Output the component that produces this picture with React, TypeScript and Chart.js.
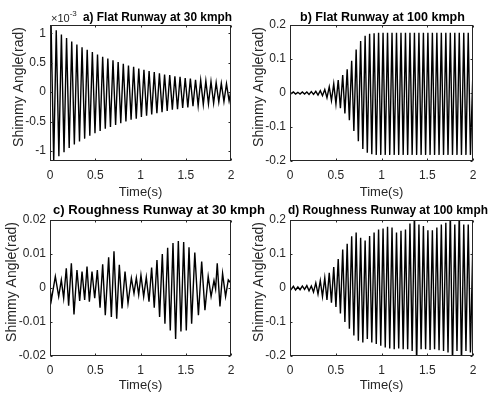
import React, { useEffect, useRef } from "react";
import { Chart, registerables } from "chart.js";

Chart.register(...registerables);

const FONT = '"Liberation Sans", Arial, Helvetica, sans-serif';
Chart.defaults.font.family = FONT;

// ---------- axis ticks ----------
const timeTicks = [0, 0.5, 1, 1.5, 2];
const timeTickLabels = ["0", "0.5", "1", "1.5", "2"];
const aYTicks = [-1, -0.5, 0, 0.5, 1];
const aYTickLabels = ["-1", "-0.5", "0", "0.5", "1"];
const bYTicks = [-0.2, -0.1, 0, 0.1, 0.2];
const bYTickLabels = ["-0.2", "-0.1", "0", "0.1", "0.2"];
const cYTicks = [-0.02, -0.01, 0, 0.01, 0.02];
const cYTickLabels = ["-0.02", "-0.01", "0", "0.01", "0.02"];
const dYTicks = [-0.2, -0.1, 0, 0.1, 0.2];
const dYTickLabels = ["-0.2", "-0.1", "0", "0.1", "0.2"];

const titles = [
  "a) Flat Runway at 30 kmph",
  "b) Flat Runway at 100 kmph",
  "c) Roughness Runway at 30 kmph",
  "d) Roughness Runway at 100 kmph",
];
const xLabel = "Time(s)";
const yLabel = "Shimmy Angle(rad)";
const aExponent = "-3";

// ---------- a) Flat runway, 30 kmph (units of 1e-3 rad), extrema ----------
const aTime = [0, 0.012, 0.041, 0.069, 0.098, 0.126, 0.155, 0.183, 0.212, 0.240, 0.269, 0.297, 0.326, 0.354, 0.383, 0.411, 0.440, 0.468, 0.497, 0.525, 0.554, 0.582, 0.611, 0.639, 0.668, 0.696, 0.725, 0.753, 0.782, 0.810, 0.839, 0.867, 0.896, 0.924, 0.953, 0.981, 1.010, 1.038, 1.067, 1.095, 1.124, 1.152, 1.181, 1.209, 1.238, 1.266, 1.295, 1.323, 1.352, 1.380, 1.409, 1.437, 1.466, 1.494, 1.523, 1.551, 1.580, 1.608, 1.637, 1.665, 1.694, 1.722, 1.751, 1.779, 1.808, 1.836, 1.865, 1.893, 1.922, 1.950, 1.979, 2.0];
const aAngle = [0, 1.14, -1.17, 1.05, -1.09, 0.98, -1.02, 0.92, -0.95, 0.86, -0.89, 0.81, -0.84, 0.76, -0.79, 0.72, -0.74, 0.68, -0.70, 0.64, -0.66, 0.60, -0.62, 0.57, -0.59, 0.54, -0.56, 0.51, -0.53, 0.48, -0.50, 0.45, -0.47, 0.43, -0.45, 0.40, -0.42, 0.38, -0.40, 0.36, -0.38, 0.34, -0.36, 0.32, -0.34, 0.30, -0.32, 0.29, -0.30, 0.27, -0.29, 0.26, -0.27, 0.24, -0.26, 0.23, -0.24, 0.21, -0.23, 0.20, -0.21, 0.19, -0.20, 0.18, -0.19, 0.16, -0.17, 0.15, -0.16, 0.14, -0.15, 0.02];

// ---------- b) Flat runway, 100 kmph ----------
const bTime = [0, 0.012, 0.037, 0.061, 0.086, 0.110, 0.135, 0.159, 0.184, 0.208, 0.233, 0.257, 0.282, 0.306, 0.331, 0.355, 0.380, 0.404, 0.429, 0.453, 0.478, 0.502, 0.527, 0.551, 0.576, 0.600, 0.625, 0.649, 0.674, 0.698, 0.723, 0.747, 0.772, 0.796, 0.821, 0.845, 0.870, 0.894, 0.919, 0.943, 0.968, 0.992, 1.017, 1.041, 1.066, 1.090, 1.115, 1.139, 1.164, 1.188, 1.213, 1.237, 1.262, 1.286, 1.311, 1.335, 1.360, 1.384, 1.409, 1.433, 1.458, 1.482, 1.507, 1.531, 1.556, 1.580, 1.605, 1.629, 1.654, 1.678, 1.703, 1.727, 1.752, 1.776, 1.801, 1.825, 1.850, 1.874, 1.899, 1.923, 1.948, 1.972, 2.0];
const bAngle = [0,
  -0.002, 0.003, -0.003, 0.002, -0.003, 0.003, -0.003, 0.003, -0.004, 0.004,
  -0.004, 0.005, -0.006, 0.007, -0.008, 0.010, -0.014, 0.018, -0.022, 0.027,
  -0.032, 0.038, -0.045, 0.053, -0.060, 0.070, -0.080, 0.095, -0.112, 0.128,
  -0.142, 0.153, -0.165, 0.168, -0.176, 0.174, -0.180, 0.176, -0.182, 0.177,
  -0.182, 0.177, -0.182, 0.177, -0.182, 0.177, -0.182, 0.177, -0.182, 0.177,
  -0.182, 0.177, -0.182, 0.177, -0.182, 0.177, -0.182, 0.177, -0.182, 0.177,
  -0.182, 0.177, -0.182, 0.177, -0.182, 0.177, -0.182, 0.177, -0.182, 0.177,
  -0.182, 0.177, -0.182, 0.177, -0.182, 0.177, -0.182, 0.177, -0.182, 0.177,
  -0.182,
  0.07];

// ---------- c) Roughness runway, 30 kmph ----------
const cTime = [0, 0.015, 0.059, 0.096, 0.125, 0.151, 0.180, 0.206, 0.236, 0.265, 0.298, 0.328, 0.354, 0.383, 0.409, 0.435, 0.464, 0.494, 0.523, 0.553, 0.582, 0.611, 0.648, 0.678, 0.707, 0.737, 0.766, 0.796, 0.829, 0.862, 0.899, 0.928, 0.954, 0.980, 1.005, 1.035, 1.064, 1.094, 1.123, 1.152, 1.182, 1.211, 1.241, 1.270, 1.300, 1.329, 1.359, 1.388, 1.418, 1.447, 1.477, 1.506, 1.536, 1.565, 1.600, 1.640, 1.676, 1.712, 1.748, 1.780, 1.812, 1.830, 1.848, 1.878, 1.907, 1.940, 1.970, 2.0];
const cAngle = [0, -0.0035, 0.0034, -0.0025, 0.0024, -0.0030, 0.0058, -0.0052, 0.0073, -0.0078, 0.0053, -0.0038, 0.0048, -0.0035, 0.0063, -0.0040, 0.0048, -0.0030, 0.0053, -0.0058, 0.0070, -0.0080, 0.0090, -0.0085, 0.0108, -0.0090, 0.0068, -0.0060, 0.0048, -0.0045, 0.0029, -0.0016, 0.0030, -0.0020, 0.0038, -0.0025, 0.0032, -0.0040, 0.0060, -0.0058, 0.0082, -0.0085, 0.0100, -0.0105, 0.0118, -0.0125, 0.0132, -0.0150, 0.0138, -0.0128, 0.0135, -0.0125, 0.0120, -0.0105, 0.0104, -0.0080, 0.0078, -0.0065, 0.0034, -0.0025, 0.0022, -0.0003, 0.0073, -0.0054, 0.0043, -0.0025, 0.0024, 0.0014];

// ---------- d) Roughness runway, 100 kmph ----------
const dTime = [0, 0.012, 0.037, 0.061, 0.086, 0.110, 0.135, 0.159, 0.184, 0.208, 0.233, 0.257, 0.282, 0.306, 0.331, 0.355, 0.380, 0.404, 0.429, 0.453, 0.478, 0.502, 0.527, 0.551, 0.576, 0.600, 0.625, 0.649, 0.674, 0.698, 0.723, 0.747, 0.772, 0.796, 0.821, 0.845, 0.870, 0.894, 0.919, 0.943, 0.968, 0.992, 1.017, 1.041, 1.066, 1.090, 1.115, 1.139, 1.164, 1.188, 1.213, 1.237, 1.262, 1.286, 1.311, 1.335, 1.360, 1.384, 1.409, 1.433, 1.458, 1.482, 1.507, 1.531, 1.556, 1.580, 1.605, 1.629, 1.654, 1.678, 1.703, 1.727, 1.752, 1.776, 1.801, 1.825, 1.850, 1.874, 1.899, 1.923, 1.948, 1.972, 2.0];
const dAngle = [0,
  -0.004, 0.005, -0.006, 0.003, -0.005, 0.006, -0.004, 0.007, -0.008, 0.006,
  -0.012, 0.015, -0.018, 0.022, -0.025, 0.030, -0.035, 0.045, -0.043, 0.062,
  -0.056, 0.085, -0.075, 0.113, -0.100, 0.130, -0.120, 0.152, -0.140, 0.163,
  -0.155, 0.148, -0.160, 0.140, -0.150, 0.153, -0.160, 0.163, -0.165, 0.172,
  -0.170, 0.175, -0.175, 0.180, -0.178, 0.178, -0.180, 0.163, -0.178, 0.168,
  -0.180, 0.172, -0.180, 0.190, -0.185, 0.230, -0.230, 0.187, -0.180, 0.182,
  -0.180, 0.170, -0.182, 0.170, -0.180, 0.178, -0.183, 0.187, -0.185, 0.192,
  -0.190, 0.230, -0.230, 0.187, -0.185, 0.230, -0.230, 0.187, -0.185, 0.187,
  -0.190,
  0.15];

// ---------- layout of the four panels ----------
type PanelCfg = {
  top: number;
  height: number;
  padding: { left: number; right: number; top: number; bottom: number };
  yAxisWidth: number;
  xAxisHeight: number;
  yTitleX: number;
  time: number[];
  angle: number[];
  yMin: number;
  yMax: number;
  yTicks: number[];
  yTickLabels: string[];
  title: string;
  titleDx: number;
  titleWidth: number;
  titleDy: number;
  exponent?: string;
};

const panels: PanelCfg[] = [
  {
    top: 0, height: 200, padding: { left: 0, right: 258, top: 25, bottom: 0 },
    yAxisWidth: 50, xAxisHeight: 39, yTitleX: 19.5,
    time: aTime, angle: aAngle, yMin: -1.17, yMax: 1.14, yTicks: aYTicks, yTickLabels: aYTickLabels,
    title: titles[0], titleDx: 33, titleWidth: 149, titleDy: 4.5, exponent: aExponent,
  },
  {
    top: 0, height: 200, padding: { left: 245, right: 16, top: 25, bottom: 0 },
    yAxisWidth: 45, xAxisHeight: 39, yTitleX: 259,
    time: bTime, angle: bAngle, yMin: -0.2, yMax: 0.2, yTicks: bYTicks, yTickLabels: bYTickLabels,
    title: titles[1], titleDx: 10, titleWidth: 165, titleDy: 4.5,
  },
  {
    top: 195, height: 198, padding: { left: 0, right: 258, top: 25, bottom: 0 },
    yAxisWidth: 50, xAxisHeight: 37, yTitleX: 12.5,
    time: cTime, angle: cAngle, yMin: -0.02, yMax: 0.02, yTicks: cYTicks, yTickLabels: cYTickLabels,
    title: titles[2], titleDx: 3, titleWidth: 212, titleDy: 6,
  },
  {
    top: 195, height: 198, padding: { left: 245, right: 16, top: 25, bottom: 0 },
    yAxisWidth: 45, xAxisHeight: 37, yTitleX: 259,
    time: dTime, angle: dAngle, yMin: -0.2, yMax: 0.2, yTicks: dYTicks, yTickLabels: dYTickLabels,
    title: titles[3], titleDx: -2, titleWidth: 200, titleDy: 6,
  },
];

const AXIS_COLOR = "#262626";

function boxPlugin(cfg: PanelCfg) {
  return {
    id: "matlabBox",
    afterDraw(chart: any) {
      const { ctx, chartArea } = chart;
      const { left, right, top, bottom } = chartArea;
      const xs = chart.scales.x;
      const ys = chart.scales.y;
      ctx.save();
      ctx.strokeStyle = AXIS_COLOR;
      ctx.lineWidth = 1;
      const L = Math.round(left) + 0.5;
      const R = Math.round(right) - 0.5;
      const T = Math.round(top) + 0.5;
      const B = Math.round(bottom) - 0.5;
      ctx.strokeRect(L, T, R - L, B - T);
      const tl = 2;
      ctx.beginPath();
      for (const v of timeTicks) {
        const px = Math.round(xs.getPixelForValue(v)) + 0.5;
        ctx.moveTo(px, B);
        ctx.lineTo(px, B - tl);
        ctx.moveTo(px, T);
        ctx.lineTo(px, T + tl);
      }
      for (const v of cfg.yTicks) {
        const py = Math.round(ys.getPixelForValue(v)) + 0.5;
        ctx.moveTo(L, py);
        ctx.lineTo(L + tl, py);
        ctx.moveTo(R, py);
        ctx.lineTo(R - tl, py);
      }
      ctx.stroke();

      // y-axis label (MATLAB style, slightly above centre)
      ctx.save();
      ctx.fillStyle = AXIS_COLOR;
      ctx.font = `14px ${FONT}`;
      ctx.translate(cfg.yTitleX, (top + bottom) / 2 - 6);
      ctx.rotate(-Math.PI / 2);
      ctx.textAlign = "center";
      ctx.textBaseline = "middle";
      ctx.fillText(yLabel, 0, 0);
      ctx.restore();

      // panel title, sized to span the same width as in the figure
      ctx.fillStyle = "#000";
      ctx.font = `bold 12px ${FONT}`;
      const w12 = ctx.measureText(cfg.title).width || 1;
      const size = Math.max(10, Math.min(15, (12 * cfg.titleWidth) / w12));
      ctx.font = `bold ${size.toFixed(2)}px ${FONT}`;
      ctx.textAlign = "left";
      ctx.textBaseline = "alphabetic";
      ctx.fillText(cfg.title, left + cfg.titleDx, top - cfg.titleDy);

      // exponent label
      if (cfg.exponent) {
        ctx.fillStyle = AXIS_COLOR;
        ctx.font = `11px ${FONT}`;
        const base = "\u00d710";
        ctx.fillText(base, left + 1, top - 3.5);
        const w = ctx.measureText(base).width;
        ctx.font = `8px ${FONT}`;
        ctx.fillText(cfg.exponent, left + 1 + w, top - 9);
      }
      ctx.restore();
    },
  };
}

function Panel({ cfg }: { cfg: PanelCfg }) {
  const ref = useRef<HTMLCanvasElement>(null);
  useEffect(() => {
    const canvas = ref.current;
    if (!canvas) return;
    const n = Math.min(cfg.time.length, cfg.angle.length);
    const points = [] as { x: number; y: number }[];
    for (let i = 0; i < n; i++) points.push({ x: cfg.time[i], y: cfg.angle[i] });
    const chart = new Chart(canvas, {
      type: "line",
      data: {
        datasets: [
          {
            data: points,
            borderColor: "#000",
            borderWidth: 1.4,
            pointRadius: 0,
            fill: false,
            tension: 0,
          },
        ],
      },
      options: {
        responsive: false,
        animation: false,
        devicePixelRatio: 1,
        events: [],
        layout: { padding: cfg.padding },
        plugins: { legend: { display: false }, tooltip: { enabled: false }, title: { display: false } },
        scales: {
          x: {
            type: "linear",
            min: 0,
            max: 2,
            afterBuildTicks: (s: any) => {
              s.ticks = timeTicks.map((v) => ({ value: v }));
            },
            afterFit: (s: any) => {
              s.height = cfg.xAxisHeight;
            },
            grid: { display: false, drawTicks: false },
            border: { display: false },
            ticks: {
              padding: 7,
              color: AXIS_COLOR,
              font: { size: 12 },
              maxRotation: 0,
              autoSkip: false,
              callback: (v: any) => timeTickLabels[timeTicks.indexOf(Number(v))] ?? "",
            },
            title: {
              display: true,
              text: xLabel,
              color: AXIS_COLOR,
              font: { size: 13 },
              padding: { top: 0, bottom: 0 },
            },
          },
          y: {
            type: "linear",
            min: cfg.yMin,
            max: cfg.yMax,
            afterBuildTicks: (s: any) => {
              s.ticks = cfg.yTicks.map((v) => ({ value: v }));
            },
            afterFit: (s: any) => {
              s.width = cfg.yAxisWidth;
            },
            grid: { display: false, drawTicks: false },
            border: { display: false },
            ticks: {
              padding: 4,
              color: AXIS_COLOR,
              font: { size: 12 },
              autoSkip: false,
              callback: (v: any) => cfg.yTickLabels[cfg.yTicks.indexOf(Number(v))] ?? "",
            },
            title: { display: false },
          },
        },
      },
      plugins: [boxPlugin(cfg)],
    } as any);
    return () => chart.destroy();
  }, [cfg]);
  return (
    <canvas
      ref={ref}
      width={489}
      height={cfg.height}
      style={{ position: "absolute", left: 0, top: cfg.top, width: 489, height: cfg.height }}
    />
  );
}

export default function App() {
  return (
    <div
      style={{
        position: "absolute",
        left: 0,
        top: 0,
        width: 489,
        height: 393,
        background: "#fff",
        overflow: "hidden",
      }}
    >
      {panels.map((p, i) => (
        <Panel key={i} cfg={p} />
      ))}
    </div>
  );
}
